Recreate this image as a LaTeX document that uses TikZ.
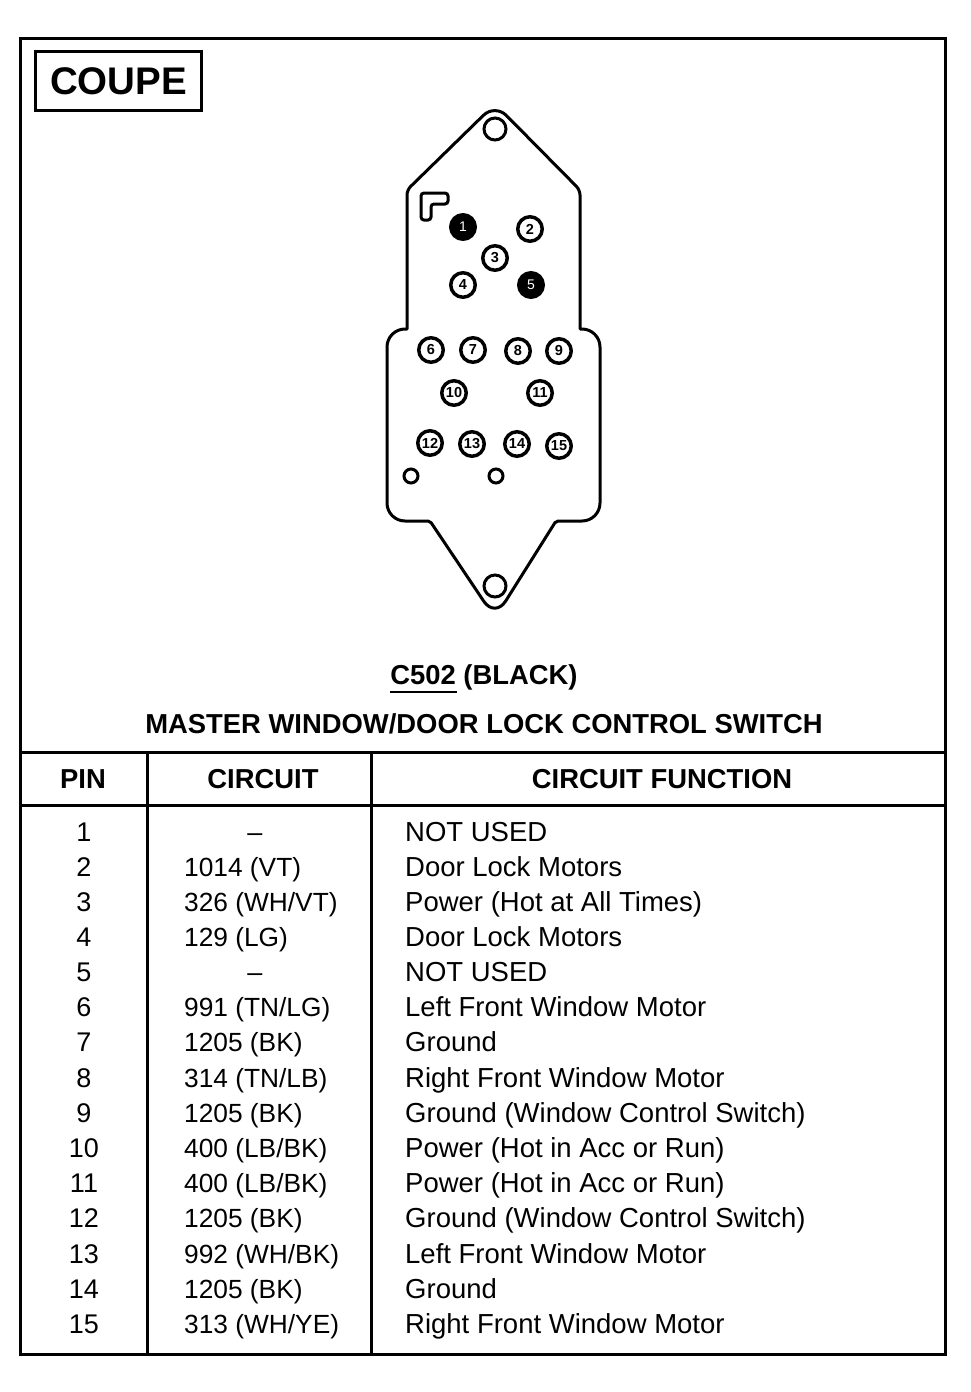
\documentclass[tikz,border=0pt]{standalone}
\usepackage{fontspec}
\setmainfont{Liberation Sans}
\tikzset{
	pin/.style={draw,circle,line width=3.5pt,minimum size=24.5pt,inner sep=0pt,font=\bfseries\fontsize{14.5}{14.5}\selectfont},
	pinblack/.style={pin,fill=black,text=white,font=\fontsize{14}{14}\selectfont},
	hole/.style={draw,circle,line width=3pt,minimum size=#1,inner sep=0pt},
	rule/.style={line width=3pt,line cap=rect},
	head/.style={font=\bfseries\fontsize{27.4}{30}\selectfont,anchor=base},
	num/.style={font=\fontsize{27}{30}\selectfont,anchor=base},
	ckt/.style={font=\fontsize{26.3}{30}\selectfont,anchor=base west,inner sep=0pt},
	txt/.style={font=\fontsize{27.5}{30}\selectfont,anchor=base west,inner sep=0pt}
}
\begin{document}
\begin{tikzpicture}[x=1pt,y=-1pt]
        \useasboundingbox (0, 0) rectangle (970, 1392);
        \coordinate (frame_nw) at (20, 38);
        \coordinate (frame_ne) at (945, 38);
        \coordinate (frame_se) at (945, 1354);
        \coordinate (frame_sw) at (20, 1354);
        \coordinate (head_w) at (20, 752);
        \coordinate (head_e) at (945, 752);
        \coordinate (body_w) at (20, 805);
        \coordinate (body_e) at (945, 805);
        \coordinate (col_1_t) at (147, 752);
        \coordinate (col_1_b) at (147, 1354);
        \coordinate (col_2_t) at (371, 752);
        \coordinate (col_2_b) at (371, 1354);
        \draw[rule] (frame_nw) -- (frame_ne) -- (frame_se) -- (frame_sw) -- cycle;
        \draw[rule] (head_w) -- (head_e);
        \draw[rule] (body_w) -- (body_e);
        \draw[rule] (col_1_t) -- (col_1_b);
        \draw[rule] (col_2_t) -- (col_2_b);
        \node[draw,line width=2.5pt,minimum width=166pt,minimum height=59pt,font=\bfseries\fontsize{38.5}{40}\selectfont] (coupe) at (118.5, 81) {COUPE};
        % connector body
        \draw[line width=3pt,line join=round]
            (407, 260) [rounded corners=5pt] -- (407, 190) [rounded corners=16pt] -- (495, 104)
            [rounded corners=5pt] -- (580, 190) [sharp corners] -- (580, 329)
            [rounded corners=18pt] -- (600, 329) -- (600, 521) [rounded corners=2pt] -- (556, 521)
            [rounded corners=20pt] -- (495, 618) [rounded corners=2pt] -- (430, 521)
            [rounded corners=18pt] -- (387, 521) -- (387, 329) [sharp corners] -- (407, 329) -- cycle;
        \draw[line width=3pt,rounded corners=3pt] (421, 193) -- (448, 193) -- (448, 204) -- (431, 204) -- (431, 220) -- (421, 220) -- cycle;
        \node[hole=22pt] (top_hole) at (495, 129) {};
        \node[hole=22pt] (bottom_hole) at (495, 586) {};
        \node[hole=14pt] (left_hole) at (411, 476) {};
        \node[hole=14pt] (mid_hole) at (496, 476) {};
        \node[pinblack] (pin_1) at (463, 227) {1};
        \node[pin] (pin_2) at (530, 229) {2};
        \node[pin] (pin_3) at (495, 258) {3};
        \node[pin] (pin_4) at (463, 285) {4};
        \node[pinblack] (pin_5) at (531, 285) {5};
        \node[pin] (pin_6) at (431, 350) {6};
        \node[pin] (pin_7) at (473, 350) {7};
        \node[pin] (pin_8) at (518, 351) {8};
        \node[pin] (pin_9) at (559, 351) {9};
        \node[pin] (pin_10) at (454, 393) {10};
        \node[pin] (pin_11) at (540, 393) {11};
        \node[pin] (pin_12) at (430, 443) {12};
        \node[pin] (pin_13) at (472, 444) {13};
        \node[pin] (pin_14) at (517, 444) {14};
        \node[pin] (pin_15) at (559, 446) {15};
        % titles
        \node[head] (c_502) at (484, 684) {C502 (BLACK)};
        \coordinate (under_w) at (390, 692);
        \coordinate (under_e) at (457, 692);
        \draw[line width=2pt] (under_w) -- (under_e);
        \node[head] (title) at (484, 733) {MASTER WINDOW/DOOR LOCK CONTROL SWITCH};
        \node[head] (head_pin) at (83, 788) {PIN};
        \node[head] (head_circuit) at (263, 788) {CIRCUIT};
        \node[head] (head_function) at (662, 788) {CIRCUIT FUNCTION};
        % table rows
        \node[num] (num_1) at (84, 841) {1};
        \node[num] (ckt_1) at (255, 841) {--};
        \node[txt] (fn_1) at (405, 841) {NOT USED};
        \node[num] (num_2) at (84, 876) {2};
        \node[ckt] (ckt_2) at (184, 876) {1014 (VT)};
        \node[txt] (fn_2) at (405, 876) {Door Lock Motors};
        \node[num] (num_3) at (84, 911) {3};
        \node[ckt] (ckt_3) at (184, 911) {326 (WH/VT)};
        \node[txt] (fn_3) at (405, 911) {Power (Hot at All Times)};
        \node[num] (num_4) at (84, 946) {4};
        \node[ckt] (ckt_4) at (184, 946) {129 (LG)};
        \node[txt] (fn_4) at (405, 946) {Door Lock Motors};
        \node[num] (num_5) at (84, 981) {5};
        \node[num] (ckt_5) at (255, 981) {--};
        \node[txt] (fn_5) at (405, 981) {NOT USED};
        \node[num] (num_6) at (84, 1016) {6};
        \node[ckt] (ckt_6) at (184, 1016) {991 (TN/LG)};
        \node[txt] (fn_6) at (405, 1016) {Left Front Window Motor};
        \node[num] (num_7) at (84, 1051) {7};
        \node[ckt] (ckt_7) at (184, 1051) {1205 (BK)};
        \node[txt] (fn_7) at (405, 1051) {Ground};
        \node[num] (num_8) at (84, 1087) {8};
        \node[ckt] (ckt_8) at (184, 1087) {314 (TN/LB)};
        \node[txt] (fn_8) at (405, 1087) {Right Front Window Motor};
        \node[num] (num_9) at (84, 1122) {9};
        \node[ckt] (ckt_9) at (184, 1122) {1205 (BK)};
        \node[txt] (fn_9) at (405, 1122) {Ground (Window Control Switch)};
        \node[num] (num_10) at (84, 1157) {10};
        \node[ckt] (ckt_10) at (184, 1157) {400 (LB/BK)};
        \node[txt] (fn_10) at (405, 1157) {Power (Hot in Acc or Run)};
        \node[num] (num_11) at (84, 1192) {11};
        \node[ckt] (ckt_11) at (184, 1192) {400 (LB/BK)};
        \node[txt] (fn_11) at (405, 1192) {Power (Hot in Acc or Run)};
        \node[num] (num_12) at (84, 1227) {12};
        \node[ckt] (ckt_12) at (184, 1227) {1205 (BK)};
        \node[txt] (fn_12) at (405, 1227) {Ground (Window Control Switch)};
        \node[num] (num_13) at (84, 1263) {13};
        \node[ckt] (ckt_13) at (184, 1263) {992 (WH/BK)};
        \node[txt] (fn_13) at (405, 1263) {Left Front Window Motor};
        \node[num] (num_14) at (84, 1298) {14};
        \node[ckt] (ckt_14) at (184, 1298) {1205 (BK)};
        \node[txt] (fn_14) at (405, 1298) {Ground};
        \node[num] (num_15) at (84, 1333) {15};
        \node[ckt] (ckt_15) at (184, 1333) {313 (WH/YE)};
        \node[txt] (fn_15) at (405, 1333) {Right Front Window Motor};
    \end{tikzpicture}
\end{document}
